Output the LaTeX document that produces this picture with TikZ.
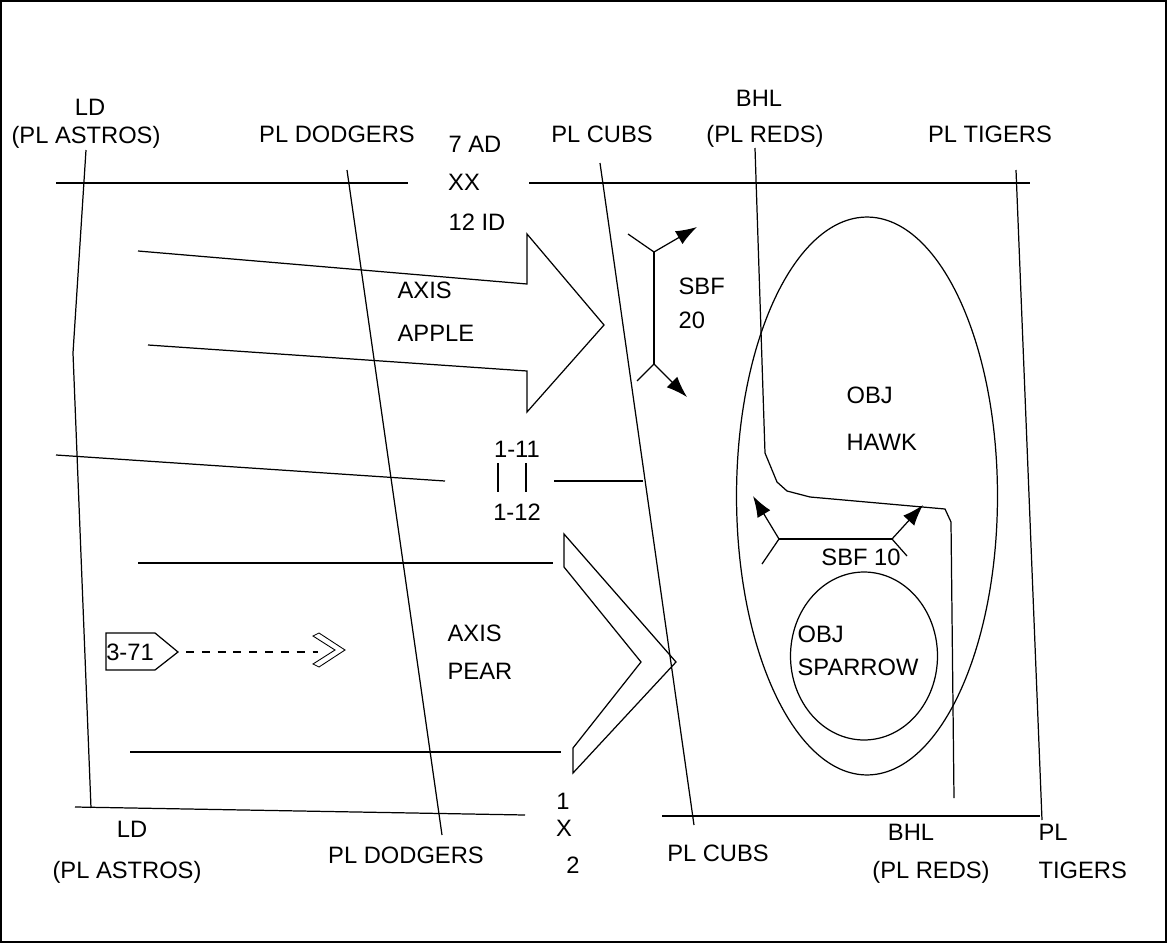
\documentclass[tikz,border=0pt]{standalone}
\usepackage{fontspec}
\setmainfont{Liberation Sans}
\usetikzlibrary{arrows.meta, positioning}

\begin{document}
\begin{tikzpicture}[
        x = 0.02cm, y = -0.02cm, line width = 0.7pt,
        >= {Latex[length = 12pt, width = 8.5pt]},
        lbl/.style = {font = \fontsize{13.5}{16}\selectfont, inner sep = 0pt,
                      text height = 9.7pt, text depth = 0pt},
        axisline/.style = {line join = miter},
        tagline/.style = {dash pattern = on 4.5pt off 4.5pt, line width = 0.6pt}
    ]
      \useasboundingbox (0,0) rectangle (1167,943);
      \draw[line width = 1pt] (1,1) rectangle (1166,942);

      % phase lines and boundaries
      \draw (56,183) -- (408,183);
      \draw (529,183) -- (1030,183);
      \draw (75,807) -- (525,815);
      \draw (662,816) -- (1040,816);
      \draw (86,150) -- (73,353) -- (91,808);
      \draw (347,170) -- (442,835);
      \draw (600,163) -- (694,825);
      \draw (755,148) -- (765,453) -- (777,482) -- (787,491) -- (810,497)
            -- (945,509) -- (951,522) -- (954,798);
      \draw (1016,170) -- (1042,820);
      \draw (56,455) -- (445,481);
      \draw (554,481) -- (643,481);

      % axis apple
      \draw[axisline] (138,251) -- (527,284) -- (527,234) -- (604,325)
            -- (527,412) -- (527,371) -- (148,345);
      % axis pear
      \draw (138,563) -- (553,563);
      \draw (130,752) -- (561,752);
      \draw[axisline] (564,534) -- (564,567) -- (641,662) -- (573,748)
            -- (573,773) -- (676,662) -- cycle;

      % objectives
      \draw (867,496) ellipse [x radius = 2.61cm, y radius = 5.58cm];
      \draw (864,656) ellipse [x radius = 1.47cm, y radius = 1.68cm];

      % support by fire
      \draw (654,252) -- (654,364);
      \draw (628,234) -- (654,252);
      \draw[->] (654,252) -- (697,227);
      \draw (637,381) -- (654,364);
      \draw[->] (654,364) -- (687,397);
      \draw (779,539) -- (892,539);
      \draw (762,564) -- (779,539);
      \draw[->] (779,539) -- (753,496);
      \draw (907,556) -- (892,539);
      \draw[->] (892,539) -- (923,505);

      % boundary between units
      \draw (498,463) -- (498,492);
      \draw (526,463) -- (526,492);

      % attack position tag
      \node[lbl] (tag) at (130,652) {3-71};
      \draw (106,633) -- (155,633) -- (178,652) -- (155,670) -- (106,670) -- cycle;
      \coordinate (tag_end) at (318,652);
      \draw[tagline] (186,652) -- (tag_end);
      \draw[line width = 0.5pt] (313,636) -- (319,633) -- (345,650) -- (319,667)
            -- (313,664) -- (335,650) -- cycle;

      % labels
      \node[lbl] (ld_t) at (90,107) {LD};
      \node[lbl] (astros_t) at (86,135) {(PL ASTROS)};
      \node[lbl] (dodgers_t) at (337,134) {PL DODGERS};
      \node[lbl] (ad) at (475,144) {7 AD};
      \node[lbl] (xx) at (464,182) {XX};
      \node[lbl] (id) at (477,222) {12 ID};
      \node[lbl] (cubs_t) at (602,134) {PL CUBS};
      \node[lbl] (bhl_t) at (759,98) {BHL};
      \node[lbl] (reds_t) at (765,134) {(PL REDS)};
      \node[lbl] (tigers_t) at (990,134) {PL TIGERS};
      \node[lbl, anchor = west] (axis_a) at (397,290) {AXIS};
      \node[lbl, anchor = west] (apple) at (397,333) {APPLE};
      \node[lbl, anchor = west] (sbf_a) at (678,286) {SBF};
      \node[lbl, anchor = west] (sbf_b) at (678,320) {20};
      \node[lbl, anchor = west] (obj_h) at (846,395) {OBJ};
      \node[lbl, anchor = west] (hawk) at (846,442) {HAWK};
      \node[lbl] (pl_a) at (517,449) {1-11};
      \node[lbl] (pl_b) at (517,512) {1-12};
      \node[lbl] (sbf_c) at (861,557) {SBF 10};
      \node[lbl, anchor = west] (axis_p) at (447,633) {AXIS};
      \node[lbl, anchor = west] (pear) at (447,671) {PEAR};
      \node[lbl, anchor = west] (obj_s) at (797,634) {OBJ};
      \node[lbl, anchor = west] (sparrow) at (797,667) {SPARROW};
      \node[lbl] (ld_b) at (132,829) {LD};
      \node[lbl] (astros_b) at (127,870) {(PL ASTROS)};
      \node[lbl] (dodgers_b) at (406,855) {PL DODGERS};
      \node[lbl] (x_a) at (563,801) {1};
      \node[lbl] (x_b) at (564,828) {X};
      \node[lbl] (x_c) at (573,865) {2};
      \node[lbl] (cubs_b) at (718,853) {PL CUBS};
      \node[lbl] (bhl_b) at (911,832) {BHL};
      \node[lbl] (reds_b) at (931,870) {(PL REDS)};
      \node[lbl, anchor = west] (tigers_a) at (1038,832) {PL};
      \node[lbl, anchor = west] (tigers_b) at (1038,870) {TIGERS};
    \end{tikzpicture}
\end{document}
